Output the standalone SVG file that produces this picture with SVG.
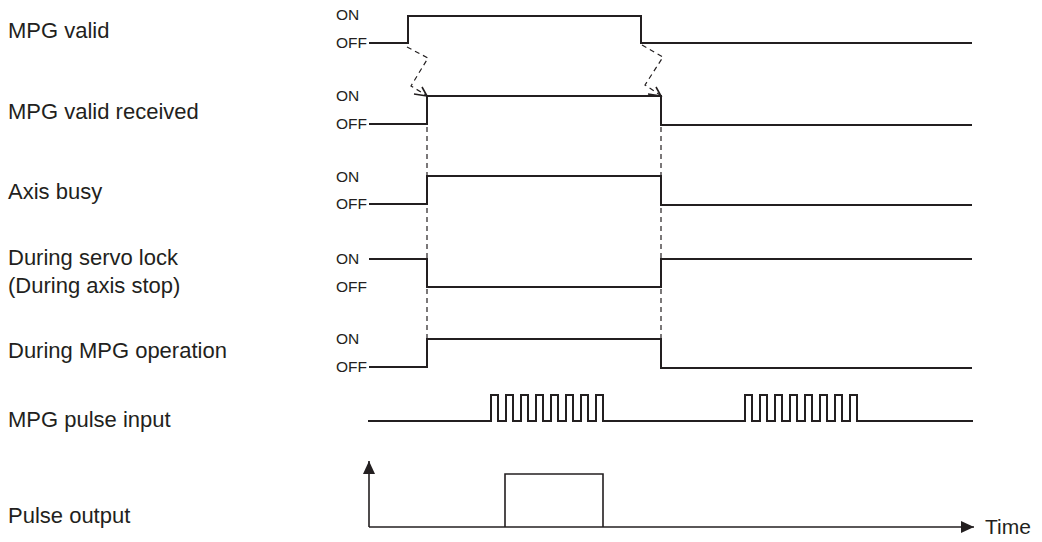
<svg xmlns="http://www.w3.org/2000/svg" width="1042" height="542" viewBox="0 0 1042 542">
<style>
.lbl{font-family:"Liberation Sans",Arial,sans-serif;font-size:22px;fill:#231f20}
.st{font-family:"Liberation Sans",Arial,sans-serif;font-size:15.5px;fill:#231f20}
.sig{fill:none;stroke:#231f20;stroke-width:2;stroke-linejoin:miter}
.thin{fill:none;stroke:#231f20;stroke-width:1.6}
.dash{fill:none;stroke:#231f20;stroke-width:1.2;stroke-dasharray:5,4}
</style>
<defs>
<marker id="ah" markerWidth="13" markerHeight="12" refX="13" refY="6" orient="auto" markerUnits="userSpaceOnUse">
<path d="M0,0 L13,6 L0,12 Z" fill="#231f20"/>
</marker>
</defs>
<rect width="1042" height="542" fill="#ffffff"/>

<g id="mpg-valid">
<text class="lbl" x="8" y="38">MPG valid</text>
<text class="st" x="336" y="20">ON</text>
<text class="st" x="336" y="48">OFF</text>
<path class="sig" d="M369,43 H408 V16 H641 V43 H972"/>
</g>

<g id="mpg-valid-received">
<text class="lbl" x="8" y="119">MPG valid received</text>
<text class="st" x="336" y="101">ON</text>
<text class="st" x="336" y="129">OFF</text>
<path class="sig" d="M369,124 H427 V96 H661 V125 H972"/>
</g>

<g id="axis-busy">
<text class="lbl" x="8" y="199">Axis busy</text>
<text class="st" x="336" y="182">ON</text>
<text class="st" x="336" y="209">OFF</text>
<path class="sig" d="M369,204 H427 V176 H661 V205 H972"/>
</g>

<g id="servo-lock">
<text class="lbl" x="8" y="265">During servo lock</text>
<text class="lbl" x="8" y="293">(During axis stop)</text>
<text class="st" x="336" y="264">ON</text>
<text class="st" x="336" y="292">OFF</text>
<path class="sig" d="M369,259 H427 V287 H661 V259 H972"/>
</g>

<g id="mpg-operation">
<text class="lbl" x="8" y="358">During MPG operation</text>
<text class="st" x="336" y="344">ON</text>
<text class="st" x="336" y="372">OFF</text>
<path class="sig" d="M369,367 H427 V339 H661 V368 H972"/>
</g>

<g id="mpg-pulse-input">
<text class="lbl" x="8" y="427">MPG pulse input</text>
<path class="sig" d="M368,421 H491 V395 H498 V421 H506 V395 H513 V421 H521 V395 H528 V421 H536 V395 H543 V421 H551 V395 H558 V421 H566 V395 H573 V421 H581 V395 H588 V421 H596 V395 H603 V421 H745 V395 H752 V421 H760 V395 H767 V421 H775 V395 H782 V421 H790 V395 H797 V421 H805 V395 H812 V421 H820 V395 H827 V421 H835 V395 H842 V421 H850 V395 H857 V421 H973"/>
</g>

<g id="pulse-output">
<text class="lbl" x="8" y="523">Pulse output</text>
<path class="thin" d="M505,527 V474 H603 V527"/>
</g>

<g id="connectors">
<line class="thin" x1="369" y1="527" x2="369" y2="461" marker-end="url(#ah)"/>
<line class="thin" x1="369" y1="527" x2="974" y2="527" marker-end="url(#ah)"/>
<line class="dash" x1="427" y1="127" x2="427" y2="367"/>
<line class="dash" x1="661" y1="127" x2="661" y2="367"/>
<path class="dash" d="M407,47 L428,58 L411,86 L426,95"/>
<path class="thin" d="M414,94 L427,96 L422,87" stroke-width="1.2"/>
<path class="dash" d="M642,45 L663,57 L645,85 L660,95"/>
<path class="thin" d="M648,94 L661,96 L656,87" stroke-width="1.2"/>
<text class="lbl" x="985" y="534" style="font-size:21px">Time</text>
</g>
</svg>
